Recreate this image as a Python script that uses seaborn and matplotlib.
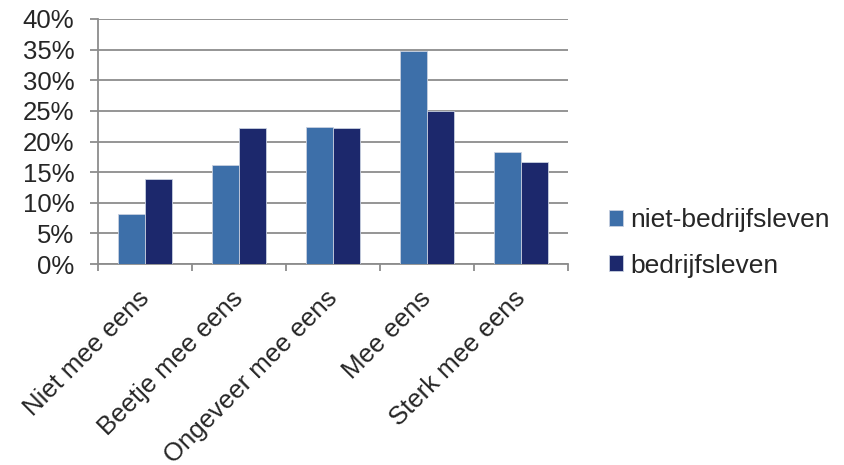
import numpy as np
import pandas as pd
import seaborn as sns
import matplotlib.pyplot as plt
from matplotlib.ticker import PercentFormatter, FixedLocator
from matplotlib.transforms import ScaledTranslation

# Data
categories = ['Niet mee eens', 'Beetje mee eens', 'Ongeveer mee eens', 'Mee eens', 'Sterk mee eens']
niet_bedrijfsleven = [8.1, 16.2, 22.3, 34.7, 18.3]
bedrijfsleven = [13.8, 22.2, 22.2, 24.9, 16.6]
series_names = ['niet-bedrijfsleven', 'bedrijfsleven']
yticks = [0, 5, 10, 15, 20, 25, 30, 35, 40]

df = pd.DataFrame({
    'categorie': categories * 2,
    'reeks': [series_names[0]] * 5 + [series_names[1]] * 5,
    'waarde': niet_bedrijfsleven + bedrijfsleven,
})

sns.set_theme(style='white')
plt.rcParams['font.family'] = ['Liberation Sans', 'DejaVu Sans']

fig = plt.figure(figsize=(8.45, 4.65), dpi=100)
ax = fig.add_axes([98 / 845, 1 - 264 / 465, (568 - 98) / 845, (264 - 19) / 465])

palette = {'niet-bedrijfsleven': '#3d6fa9', 'bedrijfsleven': '#1c286c'}
sns.barplot(data=df, x='categorie', y='waarde', hue='reeks', palette=palette,
            width=0.57, gap=0, saturation=1, edgecolor='#c8d0e0', linewidth=0.6,
            ax=ax, legend=True, zorder=3)

grid_c = '#8c8c8c'
fs = 18.5
ax.set_ylim(0, 40)
ax.set_xlim(-0.5, 4.5)
ax.set_yticks(yticks)
ax.yaxis.set_major_formatter(PercentFormatter(decimals=0))
ax.yaxis.grid(True, color=grid_c, linewidth=1.3, zorder=0)
ax.set_axisbelow(True)
for s in ['top', 'right']:
    ax.spines[s].set_visible(False)
for s in ['left', 'bottom']:
    ax.spines[s].set_color(grid_c)
    ax.spines[s].set_linewidth(1.3)

# category ticks between groups
ax.xaxis.set_minor_locator(FixedLocator(np.arange(-0.5, 5, 1)))
ax.tick_params(axis='x', which='major', length=0, labelsize=fs, pad=16)
ax.tick_params(axis='x', which='minor', length=5, color=grid_c, width=1.3, direction='out', bottom=True)
ax.tick_params(axis='y', which='major', length=6, color=grid_c, width=1.3, direction='out', left=True,
               labelsize=fs, pad=11)
shift = ScaledTranslation(-8 / 100, 0, fig.dpi_scale_trans)
for lbl in ax.get_xticklabels():
    lbl.set_rotation(45)
    lbl.set_ha('right')
    lbl.set_rotation_mode('anchor')
    lbl.set_transform(lbl.get_transform() + shift)

ax.set_xlabel('')
ax.set_ylabel('')

handles, labels = ax.get_legend_handles_labels()
ax.get_legend().remove()
fig.legend(handles, labels, loc='center left', bbox_to_anchor=(585 / 845, 1 - 243 / 465),
           frameon=False, fontsize=fs + 0.5, handlelength=0.55, handleheight=0.55,
           handletextpad=0.25, labelspacing=0.8)

fig.savefig('out.png', dpi=100)
